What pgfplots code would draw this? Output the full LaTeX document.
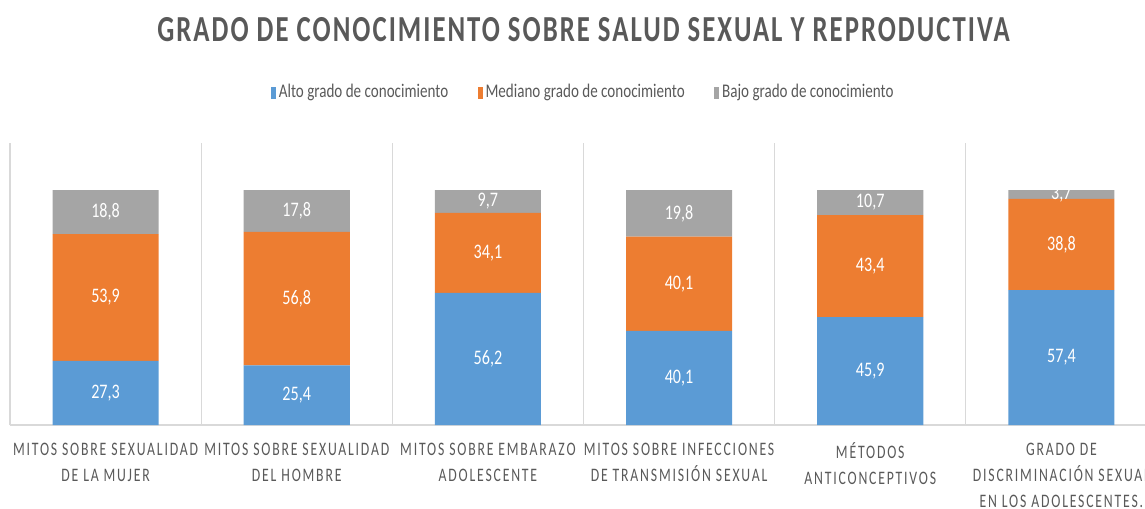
\documentclass[border=0pt]{standalone}
\usepackage{pgfplots}
\pgfplotsset{compat=1.18}
\usepackage{pgfplotstable}
\usepackage{fontspec}
\setmainfont{Carlito}
\newfontfamily\cond{Carlito}[FakeStretch=0.78]
\newfontfamily\condsp{Carlito}[FakeStretch=0.72, LetterSpace=9.5]
\newfontfamily\condtitle{Carlito}[FakeStretch=0.73, LetterSpace=5.5]
\definecolor{cblue}{HTML}{5B9BD5}
\definecolor{corange}{HTML}{ED7D31}
\definecolor{cgray}{HTML}{A5A5A5}
\definecolor{ctext}{HTML}{595959}
\definecolor{cgrid}{HTML}{D9D9D9}
\pgfplotstableread{
x A M B
0 27.3 53.9 18.8
1 25.4 56.8 17.8
2 56.2 34.1 9.7
3 40.1 40.1 19.8
4 45.9 43.4 10.7
5 57.4 38.8 3.7
}\data
\begin{document}
\begin{tikzpicture}
\path[use as bounding box] (0,0) rectangle (858.75pt,381pt);
\begin{axis}[
  at={(7.5pt,62.25pt)}, anchor=south west,
  scale only axis, width=860.25pt, height=211.5pt,
  ybar stacked, bar width=0.555,
  xmin=-0.5, xmax=5.5, ymin=0, ymax=120,
  axis line style={draw=none},
  ytick=\empty,
  extra y ticks={0}, extra y tick labels={},
  extra y tick style={grid=major, major grid style={draw=cgrid, line width=1pt}, major tick length=0pt},
  xtick={0,...,5}, major tick length=0pt,
  minor xtick={-0.5,0.5,...,5.5}, minor tick length=0pt,
  xminorgrids, minor grid style={draw=cgrid, line width=0.8pt},
  xticklabels={{MITOS SOBRE SEXUALIDAD\\DE LA MUJER},{MITOS SOBRE SEXUALIDAD\\DEL HOMBRE},{MITOS SOBRE EMBARAZO\\ADOLESCENTE},{MITOS SOBRE INFECCIONES\\DE TRANSMISIÓN SEXUAL},{MÉTODOS\\ANTICONCEPTIVOS},{GRADO DE\\DISCRIMINACIÓN SEXUAL\\EN LOS ADOLESCENTES.}},
  xticklabel style={align=center, font=\condsp\fontsize{14.3}{19.5}\selectfont, text=ctext, anchor=north, yshift=-10pt},
  title={GRADO DE CONOCIMIENTO SOBRE SALUD SEXUAL Y REPRODUCTIVA},
  title style={at={(0.5,1)}, anchor=center, yshift=79.25pt, font=\condtitle\bfseries\fontsize{27.5}{30}\selectfont, text=ctext},
  legend style={at={(0.5,1)}, anchor=center, yshift=38.25pt, draw=none, fill=none, legend columns=3, font=\cond\fontsize{14.5}{17}\selectfont, text=ctext, /tikz/every even column/.append style={column sep=20pt}},
  legend image code/.code={\fill[#1] (0pt,-5pt) rectangle (4pt,4pt);},
]
\addplot[fill=cblue, draw=none] table[x=x, y=A] {\data};
\addplot[fill=corange, draw=none] table[x=x, y=M] {\data};
\addplot[fill=cgray, draw=none] table[x=x, y=B] {\data};
\legend{Alto grado de conocimiento, Mediano grado de conocimiento, Bajo grado de conocimiento}
\end{axis}
\begin{axis}[
  at={(7.5pt,62.25pt)}, anchor=south west,
  scale only axis, width=860.25pt, height=211.5pt,
  xmin=-0.5, xmax=5.5, ymin=0, ymax=120,
  hide axis, clip=false,
  nodes near coords, point meta=explicit,
  nodes near coords style={anchor=center, text=white, font=\cond\fontsize{15.5}{18}\selectfont,
    /pgf/number format/.cd, use comma, fixed, fixed zerofill, precision=1, assume math mode=true},
]
\addplot[only marks, mark=*, mark size=0pt, mark options={draw=none, fill=none}] table[x=x, y expr=\thisrow{A}/2, meta=A] {\data};
\addplot[only marks, mark=*, mark size=0pt, mark options={draw=none, fill=none}] table[x=x, y expr=\thisrow{A}+\thisrow{M}/2, meta=M] {\data};
\addplot[only marks, mark=*, mark size=0pt, mark options={draw=none, fill=none}] table[x=x, y expr=\thisrow{A}+\thisrow{M}+\thisrow{B}/2, meta=B] {\data};
\end{axis}
\end{tikzpicture}
\end{document}
